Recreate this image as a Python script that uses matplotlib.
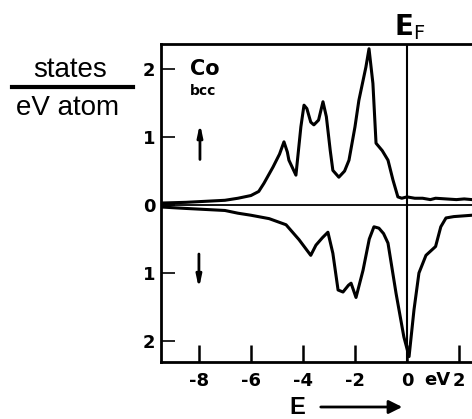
import matplotlib
matplotlib.use("Agg")
import matplotlib.pyplot as plt

# density of states of bcc Co, spin up (top) and spin down (bottom, drawn negative)
energy_up = [-9.4, -8.5, -7.5, -7.0, -6.5, -6.0, -5.7, -5.5, -5.15, -4.9, -4.73, -4.6,
             -4.54, -4.27, -4.08, -3.96, -3.85, -3.7, -3.58, -3.4, -3.23, -3.1, -2.95,
             -2.85, -2.62, -2.4, -2.23, -2.0, -1.85, -1.58, -1.46, -1.31, -1.19, -0.95,
             -0.73, -0.54, -0.35, -0.2, 0.0, 0.3, 0.6, 0.9, 1.1, 1.5, 1.9, 2.2, 2.5]
dos_up = [0.03, 0.04, 0.06, 0.07, 0.10, 0.14, 0.20, 0.32, 0.56, 0.75, 0.93, 0.78,
          0.66, 0.44, 1.15, 1.47, 1.42, 1.22, 1.18, 1.25, 1.52, 1.30, 0.80,
          0.51, 0.41, 0.50, 0.66, 1.15, 1.54, 2.03, 2.30, 1.79, 0.91, 0.80,
          0.66, 0.37, 0.12, 0.10, 0.12, 0.10, 0.10, 0.08, 0.10, 0.09, 0.08, 0.09, 0.08]

energy_down = [-9.4, -8.5, -7.5, -7.0, -6.5, -6.0, -5.3, -4.65, -4.15, -3.7, -3.5, -3.25,
               -3.04, -2.85, -2.65, -2.46, -2.25, -2.15, -1.96, -1.69, -1.45, -1.27,
               -1.08, -0.9, -0.73, -0.42, -0.12, 0.08, 0.27, 0.46, 0.73, 1.1, 1.3,
               1.5, 1.8, 2.15, 2.5]
dos_down = [0.03, 0.05, 0.07, 0.08, 0.12, 0.15, 0.20, 0.29, 0.51, 0.74, 0.59, 0.48,
            0.40, 0.71, 1.25, 1.28, 1.18, 1.15, 1.36, 0.96, 0.50, 0.32,
            0.34, 0.42, 0.56, 1.30, 1.94, 2.23, 1.54, 1.00, 0.74, 0.61, 0.32,
            0.19, 0.17, 0.16, 0.15]

x_ticks = [-8, -6, -4, -2, 0, 2]
x_labels = ["-8", "-6", "-4", "-2", "0", "2"]
y_ticks = [-2, -1, 0, 1, 2]
y_labels = ["2", "1", "0", "1", "2"]

tick_font = "DejaVu Sans"

fig = plt.figure(figsize=(4.72, 4.19), dpi=100)
ax = fig.add_axes([0.341, 0.136, 0.659, 0.759])

ax.plot(energy_up, dos_up, color="black", lw=2.2, solid_joinstyle="round")
ax.plot(energy_down, [-d for d in dos_down], color="black", lw=2.2, solid_joinstyle="round")
ax.axhline(0, color="black", lw=1.3)
ax.axvline(0, color="black", lw=1.5)

ax.set_xlim(-9.46, 2.5)
ax.set_ylim(-2.31, 2.37)

for side in ["left", "bottom", "top"]:
    ax.spines[side].set_linewidth(2.0)
ax.spines["right"].set_visible(False)

ax.set_xticks(x_ticks)
ax.set_xticklabels(x_labels, family=tick_font, fontsize=13, fontweight="bold")
ax.set_yticks(y_ticks)
ax.set_yticklabels(y_labels, family=tick_font, fontsize=13, fontweight="bold")
ax.tick_params(axis="x", direction="in", length=12, width=1.8, pad=7)
ax.tick_params(axis="y", direction="in", length=10, width=1.2, pad=4)

# unit label next to the 2 eV tick, on the tick label baseline
fig.text(437 / 472, 1 - 380 / 419, "eV", family=tick_font, fontsize=13,
         fontweight="bold", ha="center", va="center")

# labels inside the frame
ax.text(-8.34, 2.0, "Co", family=tick_font, fontsize=15, fontweight="bold",
        ha="left", va="center")
ax.text(-8.34, 1.68, "bcc", family=tick_font, fontsize=10, fontweight="bold",
        ha="left", va="center")
ax.annotate("", xy=(-7.96, 1.24), xytext=(-7.96, 0.63),
            arrowprops=dict(arrowstyle="-|>,head_length=0.7,head_width=0.15",
                            color="black", lw=2))
ax.annotate("", xy=(-8.0, -1.27), xytext=(-8.0, -0.68),
            arrowprops=dict(arrowstyle="-|>,head_length=0.7,head_width=0.15",
                            color="black", lw=2))

# Fermi level label
fig.text(410 / 472, 1 - 27 / 419, r"$\mathbf{E}_{\mathsf{F}}$", fontsize=20,
         ha="center", va="center")

# energy axis label with arrow
fig.text(297 / 472, 1 - 407 / 419, "E", fontsize=17, fontweight="bold",
         family="Liberation Sans", ha="center", va="center")
fig.add_artist(matplotlib.patches.FancyArrowPatch(
    (318 / 472, 1 - 407 / 419), (405 / 472, 1 - 407 / 419),
    transform=fig.transFigure, arrowstyle="-|>,head_length=8,head_width=4",
    color="black", lw=2))

# states / (eV atom) unit on the left
fig.text(70 / 472, 1 - 70 / 419, "states", fontsize=20, family="Liberation Sans",
         ha="center", va="center")
fig.add_artist(matplotlib.lines.Line2D([12 / 472, 133 / 472], [1 - 87 / 419, 1 - 87 / 419],
                                       transform=fig.transFigure, color="black", lw=3))
fig.text(68 / 472, 1 - 108 / 419, "eV atom", fontsize=20, family="Liberation Sans",
         ha="center", va="center")

fig.savefig("out.png", dpi=100)
